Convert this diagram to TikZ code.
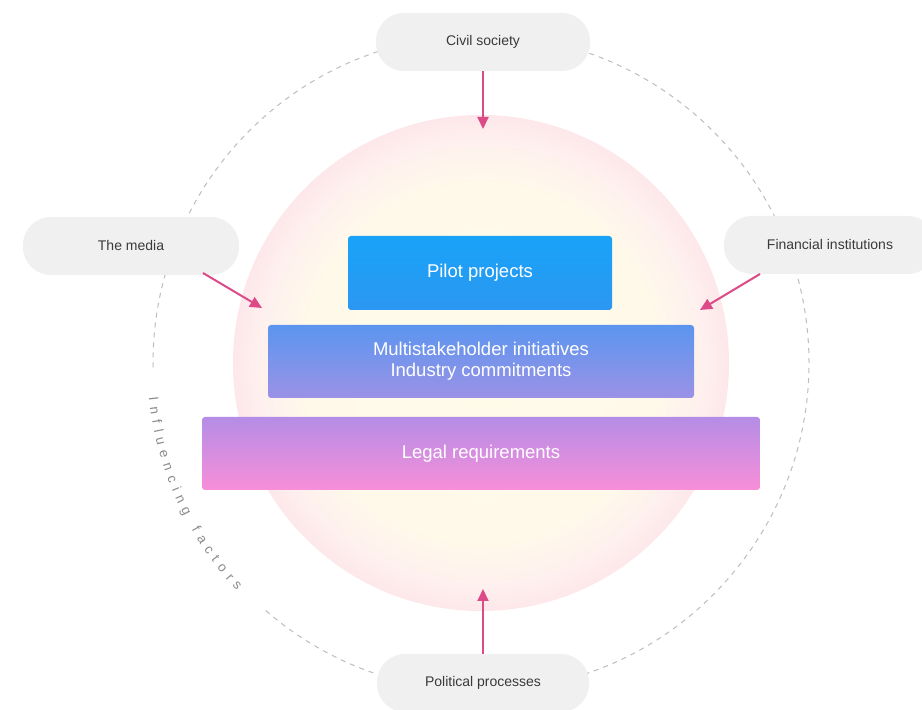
\documentclass[tikz,border=0pt]{standalone}
\usepackage{fontspec}
\setmainfont{Liberation Sans}
\usetikzlibrary{arrows.meta,decorations.text}
\definecolor{cream}{HTML}{FFFBE8}
\definecolor{creamB}{HTML}{FFF9EA}
\definecolor{pinkA}{HTML}{FEF0EE}
\definecolor{pinkB}{HTML}{FDE7EA}
\definecolor{pillgray}{HTML}{F0F0F0}
\definecolor{labeltext}{HTML}{3A3A3A}
\definecolor{arrowpink}{HTML}{DD4A88}
\definecolor{dashgray}{HTML}{BDBDBD}
\definecolor{txtgray}{HTML}{8C8C8C}
\definecolor{pilotT}{HTML}{18A3F7}
\definecolor{pilotB}{HTML}{2C97F2}
\definecolor{multiT}{HTML}{5B95EF}
\definecolor{multiB}{HTML}{9B92E6}
\definecolor{legalT}{HTML}{B48DE6}
\definecolor{legalB}{HTML}{F88ED9}
\pgfdeclareradialshading{glow}{\pgfpoint{0bp}{0bp}}{color(0bp)=(cream); color(18bp)=(creamB); color(22.5bp)=(pinkA); color(25bp)=(pinkB); color(50bp)=(pinkB)}
\begin{document}
\begin{tikzpicture}[x=1pt,y=1pt,
  pill/.style={fill=pillgray, rounded corners=28pt, minimum height=58pt, text=labeltext, font=\fontsize{14}{16}\selectfont, inner sep=0pt},
  tier/.style={rounded corners=3pt, text=white, font=\fontsize{18.5}{21}\selectfont, align=center, inner sep=0pt},
  infl/.style={draw=arrowpink, line width=2pt, -{Triangle[length=12pt,width=11pt]}},
  ring/.style={draw=dashgray, line width=1pt, dash pattern=on 5pt off 5pt}]
\fill[white] (0,0) rectangle (922,710);
\useasboundingbox (0,0) rectangle (922,710);
\coordinate (C) at (481,347);
% glowing circle
\shade[shading=glow] (C) circle (248);
% dashed ring with gap for the label
\draw[ring] (C) ++(229:328) arc (229:541:328);
\path[decorate, decoration={text along path, text align=fit to path,
  text={|\fontsize{13.5}{14}\selectfont\color{txtgray}|Influencing factors}}]
  (C) ++(186:334) arc (186:223:334);
% tiers
\node[tier, top color=pilotT, bottom color=pilotB, minimum width=264pt, minimum height=74pt] (pilot) at (480,437) {Pilot projects};
\node[tier, top color=multiT, bottom color=multiB, minimum width=426pt, minimum height=73pt] (multi) at (481,348.5) {Multistakeholder initiatives\\Industry commitments};
\node[tier, top color=legalT, bottom color=legalB, minimum width=558pt, minimum height=73pt] (legal) at (481,256.5) {Legal requirements};
% pills
\node[pill, minimum width=214pt] (civil) at (483,668) {Civil society};
\node[pill, minimum width=216pt] (media) at (131,464) {The media};
\node[pill, minimum width=212pt] (fin) at (830,465) {Financial institutions};
\node[pill, minimum width=212pt] (pol) at (483,27) {Political processes};
% arrow ends
\coordinate (civTip) at (483,581);
\coordinate (polTip) at (483,121);
\coordinate (medStart) at (203,437);
\coordinate (medTip) at (262,402);
\coordinate (finStart) at (760,436);
\coordinate (finTip) at (700,400);
\draw[infl] (civil.south) -- (civTip);
\draw[infl] (pol.north) -- (polTip);
\draw[infl] (medStart) -- (medTip);
\draw[infl] (finStart) -- (finTip);
\end{tikzpicture}
\end{document}
